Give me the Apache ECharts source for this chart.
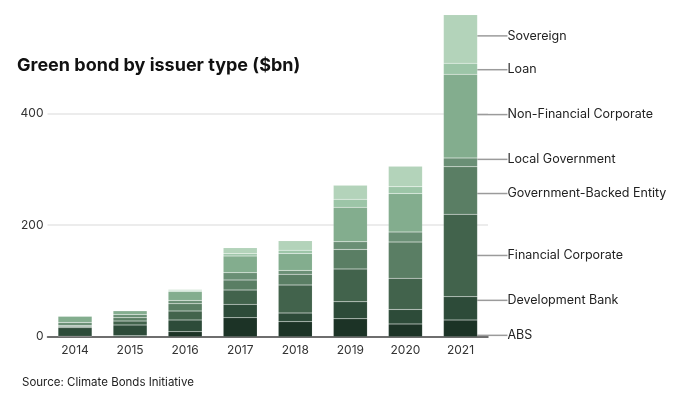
<!DOCTYPE html>
<html>
<head>
<meta charset="utf-8">
<style>
  html, body { margin: 0; padding: 0; background: #fff; }
  #chart { width: 680px; height: 405px; }
</style>
<script src="https://cdn.jsdelivr.net/npm/echarts@6/dist/echarts.min.js"></script>
</head>
<body>
<div id="chart"></div>
<script>
var years = ['2014', '2015', '2016', '2017', '2018', '2019', '2020', '2021'];

// stacked from the bottom up, $bn
var absValues = [1, 1.5, 9, 34, 27, 32, 23, 30];
var developmentBank = [15, 19.5, 21, 24, 15.6, 30.5, 25.8, 41.7];
var financialCorporate = [2.5, 7, 16, 25.7, 50, 59, 56, 148];
var governmentBacked = [1.5, 6, 13, 18, 19.5, 35, 65, 85];
var localGovernment = [5.5, 6, 6, 13, 6.8, 13.6, 18, 16];
var nonFinancialCorporate = [11, 6.5, 16, 30, 30.5, 62, 69, 150];
var loan = [0.6, 0, 2, 4, 5.8, 14.4, 12, 20];
var sovereign = [0, 0.2, 1.5, 11, 17, 25, 37, 87];

var yTicks = [0, 200, 400, 600];

var issuers = [
    { name: 'ABS', values: absValues, color: '#1c3326', nudge: 7 },
    { name: 'Development Bank', values: developmentBank, color: '#2d4b39', nudge: -8 },
    { name: 'Financial Corporate', values: financialCorporate, color: '#42634c', nudge: 0 },
    { name: 'Government-Backed Entity', values: governmentBacked, color: '#5a7e64', nudge: 3 },
    { name: 'Local Government', values: localGovernment, color: '#6a8f75', nudge: -3 },
    { name: 'Non-Financial Corporate', values: nonFinancialCorporate, color: '#83ad8e', nudge: -1.5 },
    { name: 'Loan', values: loan, color: '#9cc5a7', nudge: 1 },
    { name: 'Sovereign', values: sovereign, color: '#b3d3ba', nudge: -3 }
];

var fontFamily = 'Inter, "Noto Sans", sans-serif';
var last = years.length - 1;

var series = issuers.map(function (issuer) {
    return {
        name: issuer.name,
        type: 'bar',
        stack: 'total',
        barWidth: 34,
        itemStyle: {
            color: issuer.color,
            borderColor: 'rgba(255,255,255,0.18)',
            borderWidth: 0.5
        },
        label: {
            show: false,
            position: 'right',
            distance: 0,
            padding: [0, 0, 0, 5],
            formatter: issuer.name,
            color: '#222',
            fontSize: 12.5,
            fontFamily: fontFamily
        },
        labelLine: {
            show: true,
            lineStyle: { color: '#9b9b9b', width: 1.5 }
        },
        labelLayout: function () {
            return { dx: 25, dy: issuer.nudge };
        },
        emphasis: { disabled: true },
        data: issuer.values.map(function (v, i) {
            return i === last ? { value: v, label: { show: true } } : v;
        })
    };
});

var chart = echarts.init(document.getElementById('chart'));
chart.setOption({
    animation: false,
    title: [
        {
            text: 'Green bond by issuer type ($bn)',
            left: 17,
            top: 57,
            padding: 0,
            textStyle: { fontFamily: fontFamily, fontSize: 18, fontWeight: 'bold', color: '#111' }
        },
        {
            text: 'Source: Climate Bonds Initiative',
            left: 22,
            top: 377,
            padding: 0,
            textStyle: { fontFamily: fontFamily, fontSize: 11.5, fontWeight: 'normal', color: '#222' }
        }
    ],
    grid: { left: 47.5, right: 192, top: 2.2, bottom: 68.3 },
    xAxis: {
        type: 'category',
        data: years,
        axisTick: { show: false },
        axisLine: { lineStyle: { color: '#444', width: 1.5 } },
        axisLabel: { color: '#333', fontSize: 12, margin: 8, fontFamily: fontFamily }
    },
    yAxis: {
        type: 'value',
        min: yTicks[0],
        max: yTicks[yTicks.length - 1],
        interval: yTicks[1] - yTicks[0],
        axisLine: { show: false },
        axisTick: { show: false },
        axisLabel: { color: '#333', fontSize: 12, margin: 4, showMaxLabel: false, fontFamily: fontFamily },
        splitLine: { showMaxLine: false, lineStyle: { color: '#e6e6e6', width: 1.5 } }
    },
    series: series
});
</script>
</body>
</html>
